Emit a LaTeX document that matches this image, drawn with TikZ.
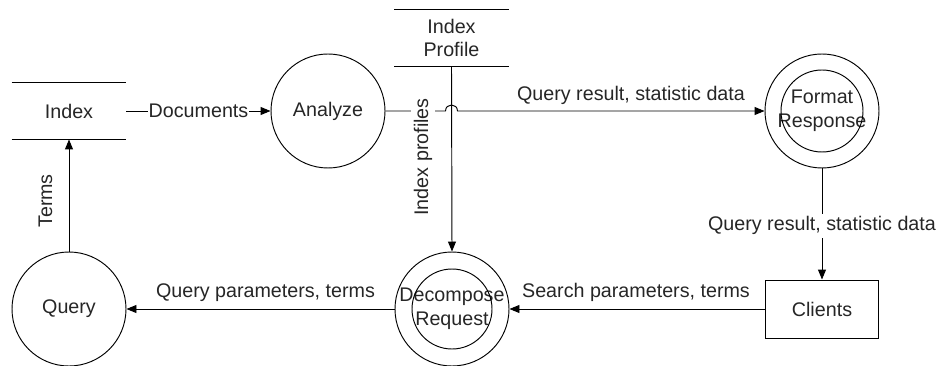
\documentclass[tikz,border=0pt]{standalone}
\usepackage{fontspec}
\setmainfont{Liberation Sans}
\usetikzlibrary{arrows.meta,calc}
\begin{document}
\begin{tikzpicture}[x=1pt,y=-1pt,
  every node/.style={font=\fontsize{19.7}{23.5}\selectfont,text=black!85},
  proc/.style={circle,draw,minimum size=114pt,inner sep=0pt,align=center},
  store/.style={minimum width=114pt,minimum height=56pt,inner sep=0pt,align=center},
  ext/.style={draw,minimum width=113pt,minimum height=58pt,inner sep=0pt},
  lbl/.style={fill=white,inner sep=3pt},
  flow/.style={-{Triangle[length=10pt,width=8pt]}},
  line width=0.95pt]

\useasboundingbox (0,0) rectangle (937,366);

% data stores
\node[store] (idx) at (69,111) {Index};
\draw (idx.north west) -- (idx.north east) (idx.south west) -- (idx.south east);
\node[store] (ipl) at (451.5,38) {Index\\Profile};
\draw (ipl.north west) -- (ipl.north east) (ipl.south west) -- (ipl.south east);

% processes
\node[proc] (ana) at (328,111) {Analyze};
\node[proc] (fmt) at (822,111) {Format\\Response};
\draw (fmt.center) circle[radius=41pt];
\node[proc] (dec) at (452,309) {Decompose\\Request};
\draw (dec.center) circle[radius=40pt];
\node[proc] (qry) at (69,309) {Query};

% external entity
\node[ext] (cli) at (822,309) {Clients};

% flows
\draw[flow] (idx) -- node[fill=white,inner xsep=0.5pt,inner ysep=3pt] {Documents} (ana);

\coordinate (hopL) at ($(ipl.south |- ana.east)+(-6,0)$);
\coordinate (hopR) at ($(ipl.south |- ana.east)+(6,0)$);
\draw[flow] (ana.east) -- (hopL)
  .. controls ($(hopL)+(0,-8)$) and ($(hopR)+(0,-8)$) .. (hopR) -- (fmt.west);
\node[anchor=base] (lqr) at (631,101) {Query result, statistic data};

\draw[flow] (ipl.south) -- (dec.north);
\node[lbl,rotate=90,anchor=base] (lip) at (428,157) {Index profiles};

\draw[flow] (fmt.south) -- (cli.north);
\node[lbl,anchor=base] (lqr2) at (822,231) {Query result, statistic data};

\draw[flow] (cli.west) -- (dec.east);
\node[anchor=base] (lsp) at (636,297) {Search parameters, terms};

\draw[flow] (dec.west) -- (qry.east);
\node[anchor=base] (lqp) at (265.5,297) {Query parameters, terms};

\draw[flow] (qry.north) -- (idx.south);
\node[rotate=90,anchor=base] (ltm) at (52,201) {Terms};
\end{tikzpicture}
\end{document}
